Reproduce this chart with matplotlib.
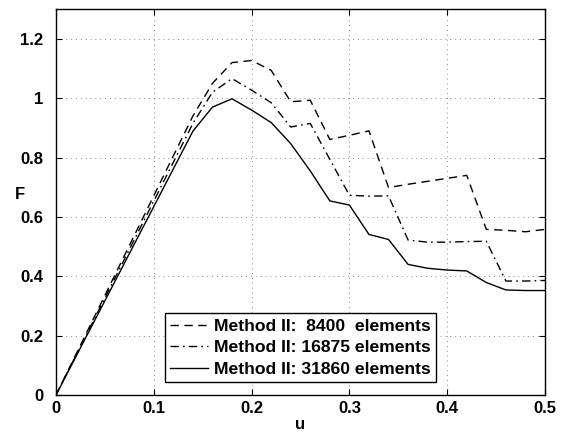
import matplotlib
matplotlib.use("Agg")
import matplotlib.pyplot as plt

# --- data ---
u_8400 = [0, 0.14, 0.16, 0.18, 0.20, 0.22, 0.24, 0.26, 0.28, 0.30, 0.32, 0.34,
          0.36, 0.38, 0.40, 0.42, 0.44, 0.46, 0.48, 0.50]
F_8400 = [0, 0.94, 1.05, 1.12, 1.127, 1.094, 0.988, 0.993, 0.861, 0.875, 0.89,
          0.699, 0.71, 0.72, 0.73, 0.74, 0.558, 0.555, 0.55, 0.558]

u_16875 = [0, 0.14, 0.16, 0.18, 0.20, 0.22, 0.24, 0.26, 0.28, 0.30, 0.32, 0.34,
           0.36, 0.38, 0.40, 0.42, 0.44, 0.46, 0.48, 0.50]
F_16875 = [0, 0.915, 1.02, 1.066, 1.027, 0.985, 0.903, 0.915, 0.794, 0.673,
           0.67, 0.671, 0.522, 0.515, 0.515, 0.517, 0.518, 0.384, 0.384, 0.386]

u_31860 = [0, 0.14, 0.16, 0.18, 0.20, 0.22, 0.24, 0.26, 0.28, 0.30, 0.32, 0.34,
           0.36, 0.38, 0.40, 0.42, 0.44, 0.46, 0.48, 0.50]
F_31860 = [0, 0.889, 0.97, 0.998, 0.96, 0.918, 0.847, 0.755, 0.654, 0.64,
           0.541, 0.524, 0.44, 0.427, 0.421, 0.418, 0.379, 0.354, 0.352, 0.352]

labels = ["Method II:  8400  elements",
          "Method II: 16875 elements",
          "Method II: 31860 elements"]

xticks = [0, 0.1, 0.2, 0.3, 0.4, 0.5]
xticklabels = ["0", "0.1", "0.2", "0.3", "0.4", "0.5"]
yticks = [0, 0.2, 0.4, 0.6, 0.8, 1.0, 1.2]
yticklabels = ["0", "0.2", "0.4", "0.6", "0.8", "1", "1.2"]

plt.rcParams['font.family'] = ['Liberation Sans', 'DejaVu Sans']
plt.rcParams['font.weight'] = 'bold'
plt.rcParams['font.size'] = 12

fig = plt.figure(figsize=(5.65, 4.36), dpi=100)
ax = fig.add_axes([0.0991, 0.094, 0.8655, 0.885])

ax.plot(u_8400, F_8400, color='black', lw=1.0, dashes=(6, 4), label=labels[0])
ax.plot(u_16875, F_16875, color='black', lw=1.0, dashes=(6, 3, 1.2, 3), label=labels[1])
ax.plot(u_31860, F_31860, color='black', lw=1.0, label=labels[2])

ax.set_xlim(0, 0.5)
ax.set_ylim(0, 1.3)
ax.set_xticks(xticks)
ax.set_xticklabels(xticklabels, fontweight='bold')
ax.set_yticks(yticks)
ax.set_yticklabels(yticklabels, fontweight='bold')
ax.tick_params(direction='in', top=True, right=True, length=4, width=0.8)
ax.tick_params(axis='y', pad=9)
ax.tick_params(axis='x', pad=4)
ax.grid(True, linestyle=(0, (1, 4)), color='#888888', linewidth=0.7)
for s in ax.spines.values():
    s.set_linewidth(1.0)

ax.set_xlabel('u', fontweight='bold')
ax.set_ylabel('F', fontweight='bold', rotation=0)
ax.xaxis.set_label_coords(0.5, -0.058)
ax.yaxis.set_label_coords(-0.074, 0.50)

leg = ax.legend(loc='lower left', bbox_to_anchor=(0.222, 0.034), fancybox=False,
                edgecolor='black', framealpha=1, handlelength=2.2,
                borderpad=0.3, labelspacing=0.35, handletextpad=0.3,
                borderaxespad=0, prop={'weight': 'bold', 'size': 12.6})
leg.get_frame().set_linewidth(1.0)

fig.savefig('out.png', dpi=100)
